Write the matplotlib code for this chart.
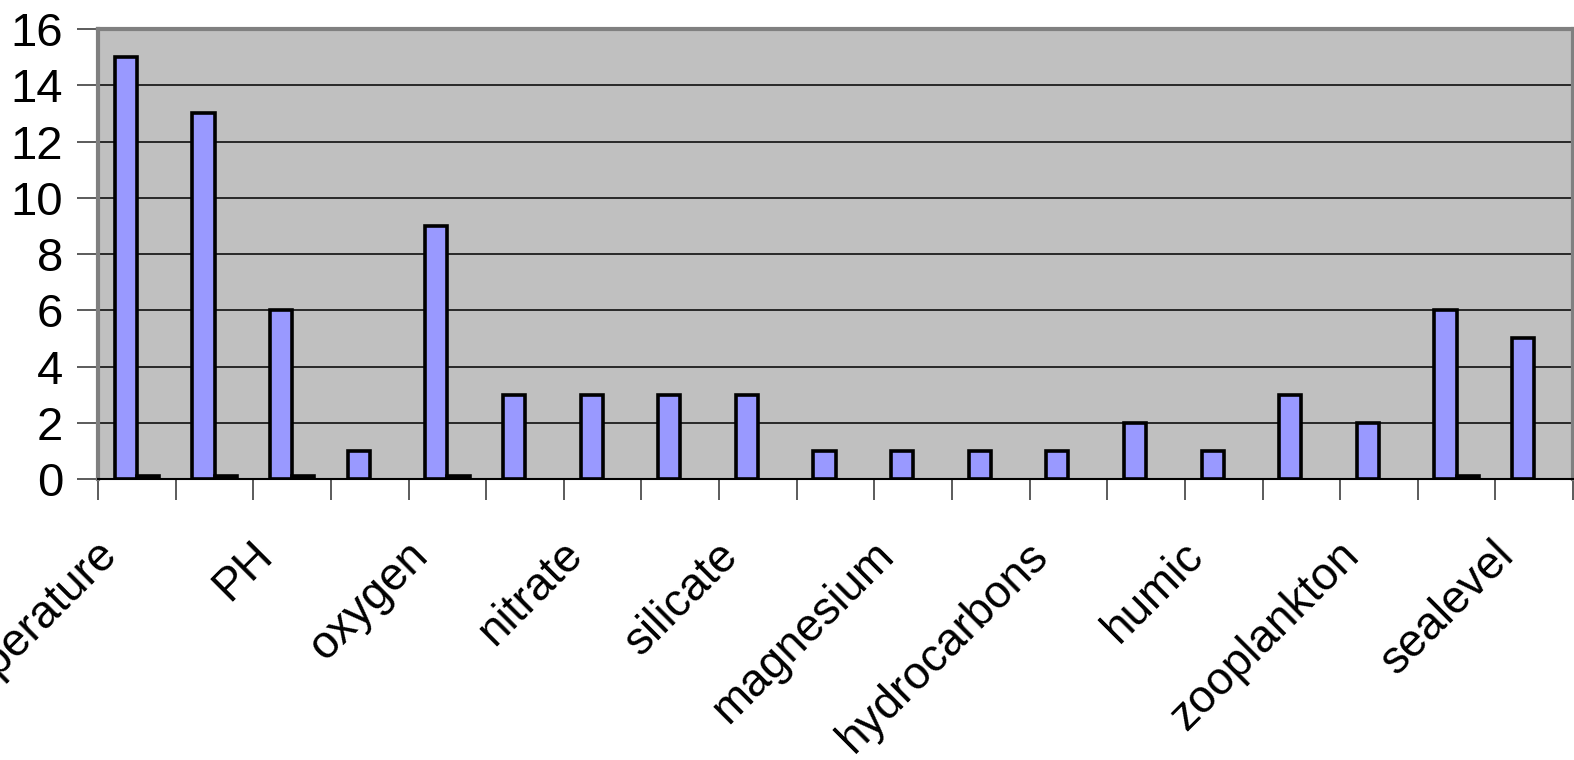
import numpy as np
import matplotlib.pyplot as plt
from matplotlib.transforms import ScaledTranslation

plt.rcParams['font.family'] = ['Liberation Sans', 'DejaVu Sans']

# one value per category, the names are only printed on every other one
shown_labels = ['temperature', 'PH', 'oxygen', 'nitrate', 'silicate',
                'magnesium', 'hydrocarbons', 'humic', 'zooplankton', 'sealevel']
series_a = [15, 13, 6, 1, 9, 3, 3, 3, 3, 1, 1, 1, 1, 2, 1, 3, 2, 6, 5]
series_b = [0.1, 0.1, 0.1, 0, 0.1, 0, 0, 0, 0, 0, 0, 0, 0, 0, 0, 0, 0, 0.1, 0]

n = len(series_a)
x = np.arange(n)
w = 0.285

fig = plt.figure(figsize=(15.74, 7.6), dpi=100)
ax = fig.add_axes([0.0623, 0.3697, 0.9371, 0.5921])
ax.set_facecolor('#C0C0C0')

ax.bar(x - w / 2, series_a, w, color='#9999FF', edgecolor='black', linewidth=2.6, zorder=3)
b_vals = np.array(series_b)
mask = b_vals > 0
ax.bar(x[mask] + w / 2, b_vals[mask], w, color='black', edgecolor='black', linewidth=2.6, zorder=3)

ax.set_xlim(-0.5, n - 0.5)
ax.set_ylim(0, 16)
ax.set_yticks(range(0, 17, 2))
ax.yaxis.grid(True, color='black', linewidth=1.1, zorder=1)
ax.set_axisbelow(True)

# category boundaries get the tick marks, labels sit on the centres
ax.set_xticks(np.arange(n + 1) - 0.5)
ax.set_xticklabels([])
ax.set_xticks(x[::2], minor=True)
ax.set_xticklabels(shown_labels, minor=True, rotation=45, ha='right', va='top',
                   rotation_mode='anchor', fontsize=33)
ax.tick_params(axis='x', which='minor', length=0, pad=39)
ax.tick_params(axis='x', which='major', length=15, width=1.2, color='#404040')
ax.tick_params(axis='y', length=15, width=1.2, color='#404040', labelsize=34, pad=10)

off = ScaledTranslation(-0.42, 0, fig.dpi_scale_trans)
for lab in ax.get_xticklabels(minor=True):
    lab.set_transform(lab.get_transform() + off)

for s in ax.spines.values():
    s.set_color('#808080')
    s.set_linewidth(3)
ax.spines['bottom'].set_color('black')
ax.spines['bottom'].set_linewidth(1.5)

plt.savefig('out.png', dpi=100)
